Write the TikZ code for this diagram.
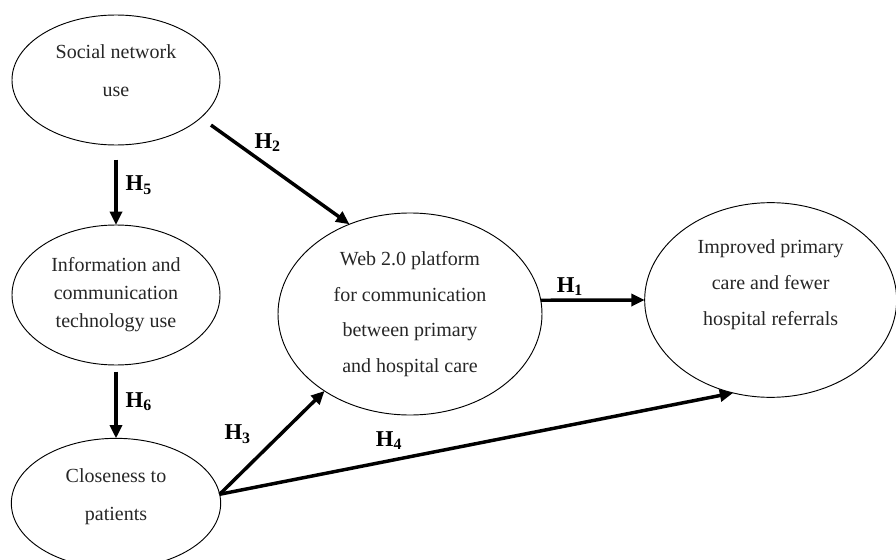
\documentclass[tikz,border=0pt]{standalone}
\usepackage{fontspec}
\setmainfont{Liberation Serif}
\usetikzlibrary{positioning,arrows.meta,shapes.geometric}

\begin{document}
\begin{tikzpicture}[
  x=0.75pt, y=-0.75pt,
  >={Triangle[length=10pt,width=9pt]},
  font=\fontsize{15}{28.5}\selectfont,
  construct/.style={draw, ellipse, line width=0.7pt, inner sep=0pt, outer sep=0pt, align=center, text=black!85},
  hyp/.style={->, line width=2.6pt},
  hlbl/.style={font=\fontsize{17}{19}\selectfont\bfseries, inner sep=1pt},
]
\useasboundingbox (0,0) rectangle (896,560);

% Constructs (left column)
\node[construct, minimum width=156pt, minimum height=97.5pt] (social) at (116,80)
  {Social network\\ use\rule[-13.5pt]{0pt}{0pt}};
\node[construct, minimum width=156pt, minimum height=105pt, below=60pt of social,
  font=\fontsize{15}{21}\selectfont] (ict)
  {Information and\\ communication\\ technology use};
\node[construct, minimum width=157pt, minimum height=97.5pt, below=55pt of ict] (close)
  {Closeness to\\ patients\rule[-13.5pt]{0pt}{0pt}};

% Platform and outcome
\node[construct, minimum width=198pt, minimum height=151.5pt,
  font=\fontsize{15}{26.8}\selectfont] (web) at (410,314)
  {Web 2.0 platform\\ for communication\\ between primary\\ and hospital care};
\node[construct, minimum width=189pt, minimum height=146pt, right=77pt of web, yshift=10.5pt,
  font=\fontsize{15}{27}\selectfont] (outcome)
  {Improved primary\\ care and fewer\\ hospital referrals\rule[-26pt]{0pt}{0pt}};

% Hypotheses
\draw[hyp] (web.6) -- node[hlbl, pos=0.28, above=1pt] {H\textsubscript{1}} (outcome.west);
\draw[hyp, shorten <=9.5pt] (social.-24) -- node[hlbl, pos=0.45, above=8pt] {H\textsubscript{2}} (web.124);
\draw[hyp] (close.5) -- node[hlbl, pos=0.58, left=20pt] {H\textsubscript{3}} (web.222);
\draw[hyp] (close.5) -- node[hlbl, pos=0.33, above=6pt] {H\textsubscript{4}} (outcome.248);
\draw[hyp, shorten <=11pt] (social.south) -- node[hlbl, right=5pt] {H\textsubscript{5}} (ict.north);
\draw[hyp, shorten <=5pt] (ict.south) -- node[hlbl, right=5pt] {H\textsubscript{6}} (close.north);

\end{tikzpicture}
\end{document}
